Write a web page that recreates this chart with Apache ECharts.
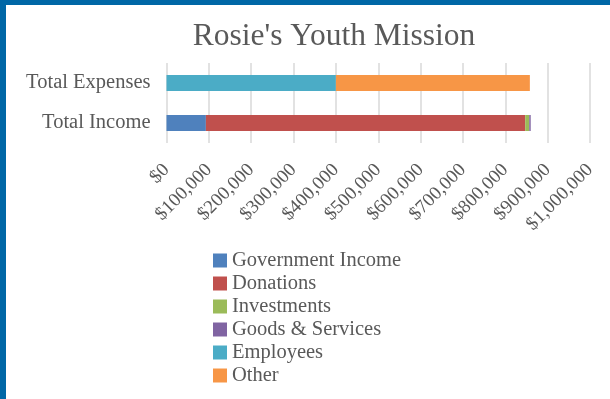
<!DOCTYPE html>
<html>
<head>
<meta charset="utf-8">
<script src="https://cdn.jsdelivr.net/npm/echarts@6/dist/echarts.min.js"></script>
<style>
  html, body { margin: 0; padding: 0; background: #fff; }
  #chart { width: 610px; height: 399px; }
</style>
</head>
<body>
<div id="chart"></div>
<script>
// Budget summary for Rosie's Youth Mission
const categories = ['Total Income', 'Total Expenses'];
const governmentIncome = [93000, null];
const donations = [754000, null];
const investments = [9500, null];
const goodsServices = [3500, null];
const employees = [null, 400000];
const other = [null, 458000];
const tickValues = [0, 100000, 200000, 300000, 400000, 500000, 600000, 700000, 800000, 900000, 1000000];

const seriesDefs = [
  { name: 'Government Income', data: governmentIncome, color: '#4F81BD' },
  { name: 'Donations', data: donations, color: '#C0504D' },
  { name: 'Investments', data: investments, color: '#9BBB59' },
  { name: 'Goods & Services', data: goodsServices, color: '#8064A2' },
  { name: 'Employees', data: employees, color: '#4BACC6' },
  { name: 'Other', data: other, color: '#F79646' }
];

const font = '"Liberation Serif", "DejaVu Serif", serif';
const textColor = '#595959';

const chart = echarts.init(document.getElementById('chart'), null, { renderer: 'canvas' });

chart.setOption({
  animation: false,
  backgroundColor: '#ffffff',
  textStyle: { fontFamily: font, color: textColor },
  title: {
    text: "Rosie's Youth Mission",
    left: 329,
    top: 16,
    textAlign: 'center',
    textStyle: { fontFamily: font, fontSize: 31.5, fontWeight: 'normal', color: textColor }
  },
  graphic: [
    { type: 'rect', shape: { x: 0, y: 0, width: 610, height: 5 }, style: { fill: '#0067A6' }, z: 100 },
    { type: 'rect', shape: { x: 0, y: 0, width: 6, height: 399 }, style: { fill: '#0067A6' }, z: 100 }
  ],
  legend: {
    orient: 'vertical',
    left: 213,
    top: 250,
    padding: 0,
    itemWidth: 14,
    itemHeight: 14,
    itemGap: 2,
    icon: 'rect',
    data: seriesDefs.map(s => s.name),
    textStyle: { fontFamily: font, fontSize: 20.5, color: textColor, lineHeight: 20 }
  },
  grid: {
    left: 166.5,
    right: 20,
    top: 63,
    bottom: 256,
    containLabel: false
  },
  xAxis: {
    type: 'value',
    min: tickValues[0],
    max: tickValues[tickValues.length - 1],
    interval: tickValues[1] - tickValues[0],
    axisLine: { show: false },
    axisTick: { show: false },
    splitLine: { show: true, lineStyle: { color: '#D9D9D9', width: 1.5 } },
    axisLabel: {
      rotate: 45,
      margin: 24,
      fontFamily: font,
      fontSize: 19,
      color: textColor,
      formatter: v => '$' + v.toLocaleString('en-US')
    }
  },
  yAxis: {
    type: 'category',
    data: categories,
    axisLine: { show: false },
    axisTick: { show: false },
    axisLabel: { margin: 16, fontFamily: font, fontSize: 20.5, color: textColor }
  },
  series: seriesDefs.map(s => ({
    name: s.name,
    type: 'bar',
    stack: 'total',
    data: s.data,
    barCategoryGap: '60%',
    itemStyle: { color: s.color }
  }))
});
</script>
</body>
</html>
